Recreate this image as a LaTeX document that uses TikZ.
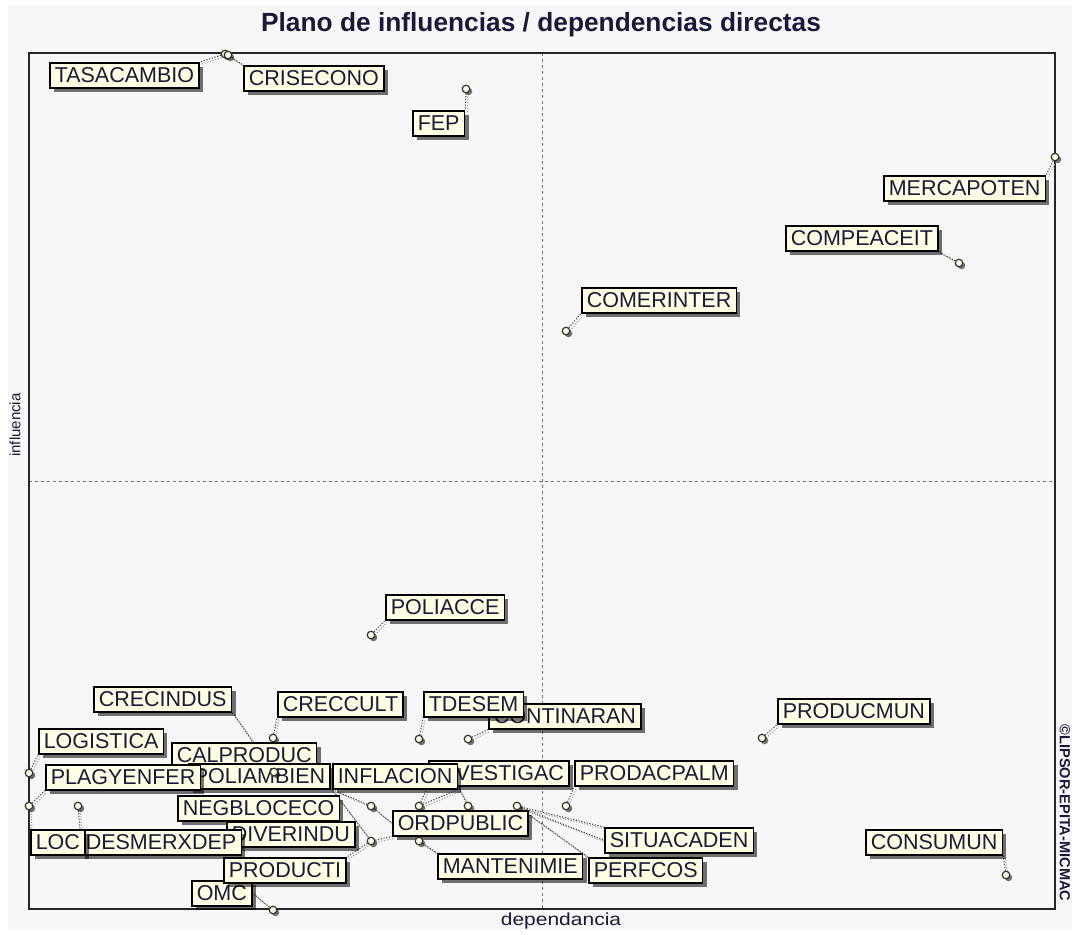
\documentclass[tikz,border=0pt]{standalone}
\usepackage{fontspec}
\setmainfont{Liberation Sans}
\usetikzlibrary{shadows,calc}
\pgfdeclarelayer{back}
\pgfdeclarelayer{bg}
\pgfsetlayers{back,bg,main}
\definecolor{cream}{RGB}{255,255,228}
\definecolor{ink}{RGB}{25,25,60}
\definecolor{paper}{RGB}{247,247,247}
\tikzset{
  lbl/.style={draw=black, line width=1.5pt, fill=cream, text=ink, anchor=north west,
    inner xsep=5pt, inner ysep=0pt, minimum height=25pt,
    font=\fontsize{21.5}{22}\selectfont,
    drop shadow={shadow xshift=4pt,shadow yshift=-4pt,fill=black,opacity=0.55}},
  pt/.style={circle, draw=black!80, fill=cream, line width=1.2pt, inner sep=0pt,
    minimum size=7.5pt,
    drop shadow={shadow xshift=2.5pt,shadow yshift=-2.5pt,fill=black,opacity=0.55}},
  conn/.style={draw=black!72, line width=1pt, dash pattern=on 1.2pt off 1.6pt},
  connsh/.style={draw=black!35, line width=1.1pt, dash pattern=on 1.2pt off 1.6pt},
  axislbl/.style={text=ink, inner sep=0pt}
}
\newcommand\linkpl[2]{\draw[connsh] ($(#1)+(2,2)$) -- ($(#2)+(2,2)$); \draw[conn] (#1) -- (#2);}
\begin{document}
\begin{tikzpicture}[x=1pt,y=-1pt]
\useasboundingbox (0,0) rectangle (1072,935);
\begin{pgfonlayer}{back}
  \fill[white] (0,0) rectangle (1072,935);
  \fill[paper] (8,5) rectangle (1072,930);
  \draw[black!55, dashed, line width=0.6pt] (542,53) -- (542,909);
  \draw[black!55, dashed, line width=0.6pt] (29,481) -- (1055,481);
  \draw[black!85, line width=1.8pt] (29,53) rectangle (1055,909);
\end{pgfonlayer}

% title and axis labels
\node[axislbl, anchor=base, font=\fontsize{26.3}{27}\selectfont\bfseries] (title) at (541,31) {Plano de influencias / dependencias directas};
\node[axislbl, rotate=90, font=\fontsize{15}{15}\selectfont] (yl) at (15,425) {influencia};
\node[axislbl, font=\fontsize{17.5}{18}\selectfont] (xl) at (561,921) {\scalebox{1.2}[1]{dependancia}};
\node[axislbl, rotate=-90, font=\fontsize{14.6}{15}\selectfont\bfseries] (cp) at (1065,813) {©LIPSOR-EPITA-MICMAC};

% labels
\node[lbl] (tas) at (49,62) {TASACAMBIO};
\node[lbl] (cri) at (243,65) {CRISECONO};
\node[lbl] (fep) at (412,110) {FEP};
\node[lbl] (mer) at (883,175) {MERCAPOTEN};
\node[lbl] (cmp) at (785,225) {COMPEACEIT};
\node[lbl] (com) at (581,287) {COMERINTER};
\node[lbl] (pac) at (385,594) {POLIACCE};
\node[lbl] (cin) at (93,686) {CRECINDUS};
\node[lbl] (ccu) at (277,691) {CRECCULT};
\node[lbl] (con) at (488,703) {CONTINARAN};
\node[lbl] (tds) at (423,691) {TDESEM};
\node[lbl] (pmu) at (777,698) {PRODUCMUN};
\node[lbl] (log) at (38,728) {LOGISTICA};
\node[lbl] (cal) at (171,742) {CALPRODUC};
\node[lbl] (pol) at (188,763) {POLIAMBIEN};
\node[lbl] (pla) at (45,764) {PLAGYENFER};
\node[lbl] (inv) at (428,760) {INVESTIGAC};
\node[lbl] (inf) at (332,763) {INFLACION};
\node[lbl] (pda) at (574,760) {PRODACPALM};
\node[lbl] (neg) at (177,795) {NEGBLOCECO};
\node[lbl] (ord) at (392,810) {ORDPUBLIC};
\node[lbl] (div) at (226,821) {DIVERINDU};
\node[lbl] (des) at (80,829) {DESMERXDEP};
\node[lbl] (loc) at (30,829) {LOC};
\node[lbl] (sit) at (604,827) {SITUACADEN};
\node[lbl] (cons) at (865,829) {CONSUMUN};
\node[lbl] (omc) at (191,880) {OMC};
\node[lbl] (pro) at (223,857) {PRODUCTI};
\node[lbl] (man) at (437,853) {MANTENIMIE};
\node[lbl] (per) at (588,857) {PERFCOS};

% points
\node[pt] (p-tas) at (225,54) {};
\node[pt] (p-cri) at (228,55) {};
\node[pt] (p-fep) at (466,89) {};
\node[pt] (p-mer) at (1055,157) {};
\node[pt] (p-cmp) at (959,263) {};
\node[pt] (p-com) at (566,331) {};
\node[pt] (p-pac) at (371,635) {};
\node[pt] (p-ccu) at (273,738) {};
\node[pt] (p-tds) at (419,739) {};
\node[pt] (p-con) at (468,739) {};
\node[pt] (p-pmu) at (762,738) {};
\node[pt] (p-log) at (29,773) {};
\node[pt] (p-cin) at (274,772) {};
\node[pt] (p-pla) at (29,806) {};
\node[pt] (p-des) at (78,806) {};
\node[pt] (p-a) at (371,806) {};
\node[pt] (p-b) at (419,806) {};
\node[pt] (p-c) at (468,806) {};
\node[pt] (p-d) at (517,806) {};
\node[pt] (p-pda) at (566,806) {};
\node[pt] (p-e) at (371,841) {};
\node[pt] (p-f) at (419,841) {};
\node[pt] (p-omc) at (273,910) {};
\node[pt] (p-cons) at (1006,875) {};

% connectors
\begin{pgfonlayer}{bg}
  \linkpl{p-tas}{tas.north east}
  \linkpl{p-cri}{cri.north west}
  \linkpl{p-fep}{fep.north east}
  \linkpl{p-mer}{mer.north east}
  \linkpl{p-cmp}{cmp.south east}
  \linkpl{p-com}{com.south west}
  \linkpl{p-pac}{pac.south west}
  \linkpl{p-ccu}{ccu.south west}
  \linkpl{p-tds}{tds.south west}
  \linkpl{p-con}{con.south west}
  \linkpl{p-pmu}{pmu.south west}
  \linkpl{p-log}{log.south west}
  \linkpl{p-pla}{pla.south west}
  \linkpl{p-pla}{loc.north west}
  \linkpl{p-des}{des.north west}
  \linkpl{p-cin}{cin.south east}
  \linkpl{p-a}{inf.south west}
  \linkpl{p-a}{ord.west}
  \linkpl{p-e}{inf.south west}
  \linkpl{p-e}{pro.north east}
  \linkpl{p-e}{ord.south west}
  \linkpl{p-b}{inv.south west}
  \linkpl{p-b}{inf.south east}
  \linkpl{p-c}{$(inv.south west)+(30,0)$}
  \linkpl{p-d}{sit.north west}
  \linkpl{p-d}{sit.west}
  \linkpl{p-d}{per.north west}
  \linkpl{p-pda}{pda.south west}
  \linkpl{p-f}{man.north west}
  \linkpl{p-omc}{omc.east}
  \linkpl{p-cons}{cons.south east}
\end{pgfonlayer}
\end{tikzpicture}
\end{document}
